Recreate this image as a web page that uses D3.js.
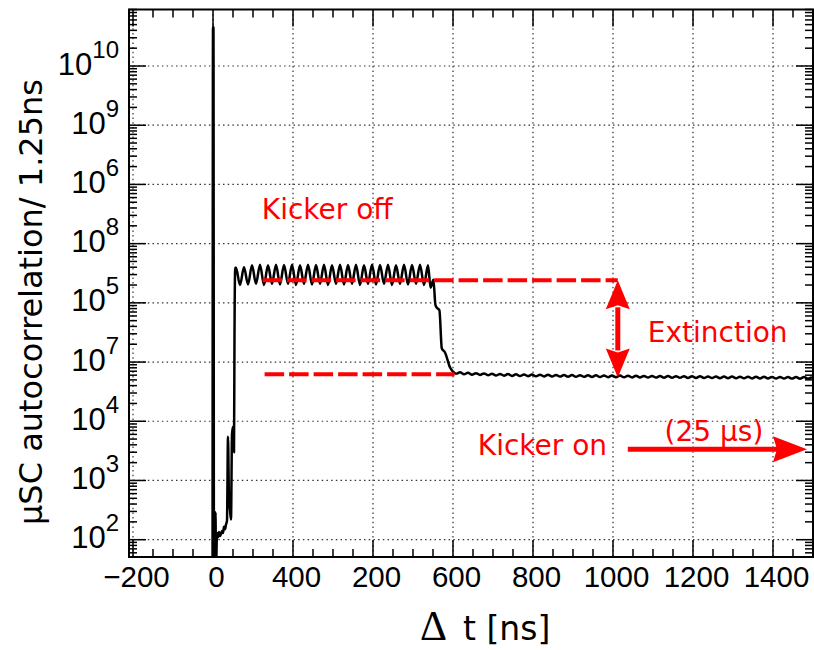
<!DOCTYPE html>
<html>
<head>
<meta charset="utf-8">
<script src="https://cdn.jsdelivr.net/npm/d3@7"></script>
<style>
  html, body { margin: 0; padding: 0; background: #fff; }
  svg { display: block; }
  .tick-label { font-family: "Liberation Sans", Arial, sans-serif; fill: #000; }
  .axis-title { font-family: "DejaVu Sans", sans-serif; fill: #000; }
  .note { font-family: "DejaVu Sans", sans-serif; font-size: 28px; fill: #f00; }
</style>
</head>
<body>
<div id="chart"></div>
<script>
// prompt peak and the first few bins (ns, counts)
const earlyTimes  = [-1.25, 0, 1.25, 2.5, 5, 6.25, 7.5, 10, 12.5, 15, 17.5, 20, 22.5, 25, 27.5, 30, 32.5, 35, 37.5, 40, 42.5, 45, 47.5, 50, 52.5, 53.75, 55.5];
const earlyCounts = [1, 4.6e10, 4.4e10, 1, 1, 290, 30, 130, 110, 135, 115, 125, 140, 130, 165, 150, 180, 210, 5.5e3, 500, 320, 220, 6e3, 8.1e3, 3e3, 2.9e5, 3.9e6];

// kicker off: bunch structure, sampled every 10 ns from 57.5 ns
const sampleStep = 10;
const plateauStart = 57.5;
const plateauCounts = [
  3.9e6, 2.0e6, 4.0e6, 2.05e6, 4.3e6, 2.1e6, 4.4e6, 2.0e6, 4.3e6, 2.1e6,
  4.4e6, 2.05e6, 4.35e6, 2.1e6, 4.4e6, 2.0e6, 4.3e6, 2.1e6, 4.4e6, 2.05e6,
  4.35e6, 2.1e6, 4.4e6, 2.0e6, 4.3e6, 2.1e6, 4.4e6, 2.05e6, 4.35e6, 2.1e6,
  4.4e6, 2.0e6, 4.3e6, 2.1e6, 4.4e6, 2.05e6, 4.35e6, 2.1e6, 4.4e6, 2.0e6,
  4.3e6, 2.1e6, 4.4e6, 2.05e6, 4.35e6, 2.1e6, 4.4e6, 2.0e6, 4.3e6
];

// kicker switching on
const dropTimes  = [544, 551, 556, 560, 566, 572, 580, 593, 600];
const dropCounts = [1.8e6, 2.45e6, 9.3e5, 8.2e5, 7.5e5, 1.7e5, 1.45e5, 8.0e4, 6.9e4];

// kicker on: residual, sampled every 10 ns from 607.5 ns
const tailStart = 607.5;
const tailCounts = [
  63.5e3, 67.0e3, 62.0e3, 66.0e3, 61.2e3, 65.0e3, 60.5e3, 64.3e3, 59.8e3, 63.6e3,
  59.3e3, 63.0e3, 58.8e3, 62.6e3, 58.4e3, 62.2e3, 58.0e3, 61.8e3, 57.7e3, 61.5e3,
  57.4e3, 61.2e3, 57.2e3, 61.0e3, 57.0e3, 60.7e3, 56.8e3, 60.4e3, 56.6e3, 60.2e3,
  56.4e3, 60.0e3, 56.2e3, 59.8e3, 56.0e3, 59.6e3, 55.8e3, 59.4e3, 55.6e3, 59.2e3,
  55.5e3, 59.0e3, 55.3e3, 58.8e3, 55.1e3, 58.6e3, 54.9e3, 58.4e3, 54.8e3, 58.3e3,
  54.6e3, 58.1e3, 54.5e3, 57.9e3, 54.3e3, 57.8e3, 54.2e3, 57.6e3, 54.0e3, 57.5e3,
  53.9e3, 57.3e3, 53.8e3, 57.2e3, 53.6e3, 57.0e3, 53.5e3, 56.9e3, 53.4e3, 56.8e3,
  53.3e3, 56.6e3, 53.1e3, 56.5e3, 53.0e3, 56.4e3, 52.9e3, 56.2e3, 52.8e3, 56.1e3,
  52.7e3, 56.0e3, 52.6e3, 55.9e3, 52.5e3, 55.8e3, 52.4e3, 55.7e3, 52.3e3, 55.6e3
];

const xTickValues = [-200, 0, 200, 400, 600, 800, 1000, 1200, 1400];
const xTickLabels = ['\u2212200', '0', '400', '200', '600', '800', '1000', '1200', '1400'];
const yTickValues = [1e2, 1e3, 1e4, 1e5, 1e6, 1e7, 1e8, 1e9, 1e10];
const yTickExponents = ['2', '3', '4', '7', '5', '8', '6', '9', '10'];

// annotation levels
const kickerOffLevel = 2.4e6;
const kickerOnLevel = 6.2e4;
const extinctionTime = 1012;
const extinctionBottom = 5.5e4;
const kickerOnArrow = { from: 1037, to: 1485, level: 3.37e3 };

class AutocorrelationChart {
  constructor(el) {
    this.el = el;
    this.width = 814;
    this.height = 650;
    this.plot = { left: 129, right: 813, top: 9.5, bottom: 557 };
    this.x = d3.scaleLinear()
      .domain([-210, 1500])
      .range([this.plot.left, this.plot.right]);
    this.y = d3.scaleLog()
      .domain([51, 9e10])
      .range([this.plot.bottom, this.plot.top]);
  }

  series() {
    const pts = [];
    earlyTimes.forEach((t, i) => pts.push({ t, v: earlyCounts[i] }));
    plateauCounts.forEach((v, i) => pts.push({ t: plateauStart + i * sampleStep, v }));
    dropTimes.forEach((t, i) => pts.push({ t, v: dropCounts[i] }));
    tailCounts.forEach((v, i) => pts.push({ t: tailStart + i * sampleStep, v }));
    return pts;
  }

  render() {
    const { x, y, plot } = this;
    this.svg = d3.select(this.el).append(`svg`)
        .attr(`width`, this.width)
        .attr(`height`, this.height);

    this.svg.append(`clipPath`).attr(`id`, `plot-clip`)
      .append(`rect`)
        .attr(`x`, plot.left).attr(`y`, plot.top)
        .attr(`width`, plot.right - plot.left)
        .attr(`height`, plot.bottom - plot.top);

    this.drawGrid();

    this.svg.append(`path`)
        .datum(this.series())
        .attr(`clip-path`, `url(#plot-clip)`)
        .attr(`fill`, `none`)
        .attr(`stroke`, `#000`)
        .attr(`stroke-width`, 2.5)
        .attr(`stroke-linejoin`, `round`)
        .attr(`d`, d3.line()
          .x((d) => x(d.t))
          .y((d) => y(d.v))
          .curve(d3.curveMonotoneX));

    this.drawAxes();
    this.drawNotes();
  }

  drawGrid() {
    const { x, y, plot } = this;
    const grid = this.svg.append(`g`)
        .attr(`stroke`, `#333`)
        .attr(`stroke-width`, 1.2)
        .attr(`stroke-dasharray`, `1.5,3.2`);

    grid.selectAll(`.gx`).data(xTickValues)
      .enter().append(`line`)
        .attr(`x1`, (d) => x(d)).attr(`x2`, (d) => x(d))
        .attr(`y1`, plot.top).attr(`y2`, plot.bottom);

    grid.selectAll(`.gy`).data(yTickValues)
      .enter().append(`line`)
        .attr(`x1`, plot.left).attr(`x2`, plot.right)
        .attr(`y1`, (d) => y(d)).attr(`y2`, (d) => y(d));
  }

  drawAxes() {
    const { x, y, plot } = this;
    const majorLen = 17;
    const minorLen = 8;
    const ticks = this.svg.append(`g`)
        .attr(`stroke`, `#000`)
        .attr(`stroke-width`, 1.5);

    const xMinor = d3.range(-200, 1501, 50).filter((d) => !xTickValues.includes(d));
    const xAll = xTickValues.map((d) => ({ v: d, len: majorLen }))
      .concat(xMinor.map((d) => ({ v: d, len: minorLen })));

    ticks.selectAll(`.xb`).data(xAll)
      .enter().append(`line`)
        .attr(`x1`, (d) => x(d.v)).attr(`x2`, (d) => x(d.v))
        .attr(`y1`, plot.bottom).attr(`y2`, (d) => plot.bottom - d.len);
    ticks.selectAll(`.xt`).data(xAll)
      .enter().append(`line`)
        .attr(`x1`, (d) => x(d.v)).attr(`x2`, (d) => x(d.v))
        .attr(`y1`, plot.top).attr(`y2`, (d) => plot.top + d.len);

    const [lo, hi] = y.domain();
    const yMinor = [];
    for (let e = 1; e <= 10; e++) {
      for (let m = 2; m <= 9; m++) {
        const v = m * Math.pow(10, e);
        if (v >= lo && v <= hi) yMinor.push(v);
      }
    }
    const yAll = yTickValues.map((d) => ({ v: d, len: majorLen }))
      .concat(yMinor.map((d) => ({ v: d, len: minorLen })));

    ticks.selectAll(`.yl`).data(yAll)
      .enter().append(`line`)
        .attr(`y1`, (d) => y(d.v)).attr(`y2`, (d) => y(d.v))
        .attr(`x1`, plot.left).attr(`x2`, (d) => plot.left + d.len);
    ticks.selectAll(`.yr`).data(yAll)
      .enter().append(`line`)
        .attr(`y1`, (d) => y(d.v)).attr(`y2`, (d) => y(d.v))
        .attr(`x1`, plot.right).attr(`x2`, (d) => plot.right - d.len);

    // frame
    this.svg.append(`rect`)
        .attr(`x`, plot.left).attr(`y`, plot.top)
        .attr(`width`, plot.right - plot.left)
        .attr(`height`, plot.bottom - plot.top)
        .attr(`fill`, `none`)
        .attr(`stroke`, `#000`)
        .attr(`stroke-width`, 2);

    // x tick labels
    this.svg.append(`g`).selectAll(`text`)
        .data(xTickValues)
      .enter().append(`text`)
        .attr(`class`, `tick-label`)
        .attr(`font-size`, 29.5)
        .attr(`text-anchor`, `middle`)
        .attr(`x`, (d) => x(d) + 3.5)
        .attr(`y`, plot.bottom + 30)
        .text((d, i) => xTickLabels[i]);

    // y tick labels, 10^n
    const yl = this.svg.append(`g`).selectAll(`text`)
        .data(yTickValues)
      .enter().append(`text`)
        .attr(`class`, `tick-label`)
        .attr(`text-anchor`, `end`)
        .attr(`x`, 119)
        .attr(`y`, (d) => y(d) + 8.5);
    yl.append(`tspan`).attr(`font-size`, 31).text(`10`);
    yl.append(`tspan`).attr(`font-size`, 24).attr(`dy`, -17)
        .text((d, i) => yTickExponents[i]);

    // titles
    this.svg.append(`text`)
        .attr(`class`, `axis-title`)
        .attr(`font-size`, 32)
        .attr(`text-anchor`, `middle`)
        .attr(`transform`, `translate(42,302) rotate(-90)`)
        .text(`\u03bcSC autocorrelation/ 1.25ns`);

    this.svg.append(`text`)
        .attr(`font-family`, `"Liberation Serif", serif`)
        .attr(`font-size`, 42)
        .attr(`x`, 420).attr(`y`, 640)
        .text(`\u0394`);
    this.svg.append(`text`)
        .attr(`class`, `axis-title`)
        .attr(`font-size`, 33)
        .attr(`x`, 463).attr(`y`, 640)
        .text(`t [ns]`);
  }

  drawNotes() {
    const { x, y } = this;
    const red = `#ff0000`;
    const g = this.svg.append(`g`);

    g.append(`line`)
        .attr(`x1`, x(124)).attr(`x2`, x(extinctionTime))
        .attr(`y1`, y(kickerOffLevel)).attr(`y2`, y(kickerOffLevel))
        .attr(`stroke`, red).attr(`stroke-width`, 4)
        .attr(`stroke-dasharray`, `19.5,5`);
    g.append(`line`)
        .attr(`x1`, x(129)).attr(`x2`, x(604))
        .attr(`y1`, y(kickerOnLevel)).attr(`y2`, y(kickerOnLevel))
        .attr(`stroke`, red).attr(`stroke-width`, 4)
        .attr(`stroke-dasharray`, `19.5,5`);

    // double arrow (extinction)
    const ax = x(extinctionTime);
    const aTop = y(kickerOffLevel);
    const aBot = y(extinctionBottom);
    const head = 29, half = 12;
    g.append(`line`)
        .attr(`x1`, ax).attr(`x2`, ax)
        .attr(`y1`, aTop + head - 2).attr(`y2`, aBot - head + 2)
        .attr(`stroke`, red).attr(`stroke-width`, 5);
    g.append(`path`)
        .attr(`fill`, red)
        .attr(`d`, `M${ax},${aTop} L${ax + half},${aTop + head} L${ax},${aTop + head - 4} L${ax - half},${aTop + head} Z`);
    g.append(`path`)
        .attr(`fill`, red)
        .attr(`d`, `M${ax},${aBot} L${ax + half},${aBot - head} L${ax},${aBot - head + 4} L${ax - half},${aBot - head} Z`);

    // kicker on arrow
    const hx0 = x(kickerOnArrow.from);
    const hx1 = x(kickerOnArrow.to);
    const hy = y(kickerOnArrow.level);
    g.append(`line`)
        .attr(`x1`, hx0).attr(`x2`, hx1 - 30)
        .attr(`y1`, hy).attr(`y2`, hy)
        .attr(`stroke`, red).attr(`stroke-width`, 5);
    g.append(`path`)
        .attr(`fill`, red)
        .attr(`d`, `M${hx1},${hy} L${hx1 - 34},${hy - 13} L${hx1 - 30},${hy} L${hx1 - 34},${hy + 13} Z`);

    g.append(`text`).attr(`class`, `note`)
        .attr(`x`, x(122)).attr(`y`, y(2.6e7)).text(`Kicker off`);
    g.append(`text`).attr(`class`, `note`)
        .attr(`x`, x(1087)).attr(`y`, y(2.18e5)).text(`Extinction`);
    g.append(`text`).attr(`class`, `note`)
        .attr(`x`, x(662)).attr(`y`, y(2.69e3)).text(`Kicker on`);
    g.append(`text`).attr(`class`, `note`)
        .attr(`x`, x(1129)).attr(`y`, y(4.64e3)).text(`(25 \u03bcs)`);
  }
}

new AutocorrelationChart(`#chart`).render();
</script>
</body>
</html>
